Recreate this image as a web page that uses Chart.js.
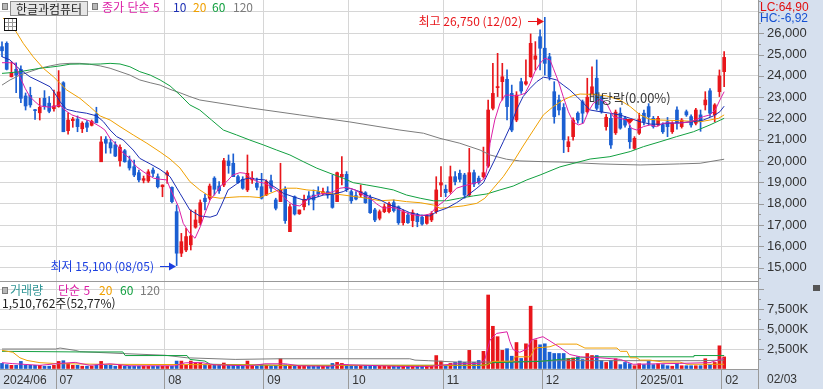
<!DOCTYPE html>
<html lang="ko"><head><meta charset="utf-8">
<title>한글과컴퓨터</title>
<script src="https://cdn.jsdelivr.net/npm/chart.js@4.4.1/dist/chart.umd.min.js"></script>
<style>
html,body{margin:0;padding:0;background:#fff}
body{width:823px;height:389px;position:relative;overflow:hidden;font-family:"Noto Sans CJK KR","Liberation Sans",sans-serif}
canvas{position:absolute;left:0}
#pc{top:0}#vc{top:281px}
.t{position:absolute;white-space:nowrap;font-size:12px;line-height:14px}
.n{font-family:"Liberation Sans",Arial,sans-serif}
.sq{position:absolute;width:4px;height:5px;background:#b8b8b8;border:1px solid #7a7a7a}
</style></head><body>
<canvas id="pc" width="823" height="281"></canvas>
<canvas id="vc" width="823" height="108"></canvas>
<div class="sq" style="left:2px;top:3px"></div>
<div class="t" style="left:10px;top:1px;width:76px;height:13px;line-height:13px;border:1px solid #8e8e8e;background:#e6e6e6;color:#1e1e1e;text-align:center">한글과컴퓨터</div>
<div class="sq" style="left:92px;top:3px"></div>
<div class="t" style="left:102px;top:0px;color:#dc1fa6">종가 단순 5</div>
<div class="t" style="left:173px;top:0px;color:#1c2fb4">10</div>
<div class="t" style="left:193px;top:0px;color:#f0a000">20</div>
<div class="t" style="left:212px;top:0px;color:#12a040">60</div>
<div class="t" style="left:233px;top:0px;color:#7c7c7c">120</div>
<div style="position:absolute;left:4px;top:18px;width:11px;height:11px;border:1px solid #111;background-color:#fff;background-image:linear-gradient(#999 1px,transparent 1px),linear-gradient(90deg,#999 1px,transparent 1px);background-size:4px 4px;background-position:-1px -1px"></div>
<div class="t n" style="left:760px;top:0px;color:#e01010">LC:64,90</div>
<div class="t n" style="left:760px;top:11px;color:#1450d2">HC:-6,92</div>
<div class="sq" style="left:2px;top:287px"></div>
<div class="t" style="left:10px;top:283px;color:#2f9595">거래량</div>
<div class="t" style="left:58px;top:283px;color:#dc1fa6">단순 5</div>
<div class="t" style="left:99px;top:283px;color:#f0a000">20</div>
<div class="t" style="left:120px;top:283px;color:#12a040">60</div>
<div class="t" style="left:140px;top:283px;color:#7c7c7c">120</div>
<div class="t" style="left:2px;top:296px;color:#222">1,510,762주(52,77%)</div>
<div class="t n" style="left:767px;top:372px;color:#333">02/03</div>
<div style="position:absolute;left:813px;top:285px;width:7px;height:6px;background:#555"></div>
<script>
// ---------- data ----------
const monthStartIdx = [0,12,35,56,74,94,115,135,153];
const monthLabels = ['2024/06','07','08','09','10','11','12','2025/01','02'];
const extremeDates = ['12/02','08/05'];
const exDivIdx = 133;
const exDivText = '배당락(0.00%)';
const priceLabels = [15000,16000,17000,18000,19000,20000,21000,22000,23000,24000,25000,26000];
const volLabels = [2500,5000,7500];

const opens = [
25370,25530,23960,24310,24310,23060,23090,22400,22270,22950,
22720,22460,22560,23680,21430,21900,21960,21520,21800,21680,
22210,19970,21030,20870,20760,20020,20490,20020,19740,19460,
19100,19070,19580,19270,18800,19350,18770,17630,15680,15830,
16070,16900,17110,18260,18260,19200,18830,18880,20010,19900,
19270,19150,18650,19120,18960,18800,18410,19080,18180,18100,
18680,16690,18330,17530,17860,18370,18410,18570,18490,18570,
18410,18100,19270,19380,18570,18380,18410,18520,18290,17710,
17320,17630,17630,18050,17860,17110,17470,17210,17470,17370,
17080,17240,17630,18880,18680,18570,19270,19430,19350,18410,
19460,19200,19270,19770,22480,23450,23730,23840,23180,21930,
23730,23620,23960,24780,25840,25300,24900,23260,22870,22520,
20680,21150,22250,22790,22320,23180,23890,23030,21620,22010,
21330,22250,22020,21540,20600,21310,22250,22560,22010,21700,
21700,21850,21380,22400,21620,22320,22090,21780,22170,22640,
23300,22170,23260,24200];
const highs = [
25600,25600,24670,24610,24470,23200,23470,22430,22950,23310,
23030,23340,24250,23730,22270,22060,22120,21850,21900,21930,
22530,21150,21150,21030,20910,20760,20550,20240,20050,19580,
19300,19600,19690,19400,18890,19550,18800,17940,16610,16850,
17710,17710,18180,18460,18930,19270,19040,20130,20290,20340,
19350,19270,20290,19510,19200,19430,19120,19350,18260,19900,
18800,17990,18370,17710,18410,18570,18650,18800,18740,18800,
19350,19490,20210,19510,18650,18570,18880,18570,18410,17790,
17710,17990,18080,18180,17900,17710,17580,17710,17550,17470,
17470,17630,19270,19740,18880,19770,19510,19580,19430,20600,
19580,19300,20660,22870,24590,25060,24590,24280,23570,23260,
23890,24750,25970,25610,26160,26750,25060,23730,23100,22700,
21150,22030,22320,22870,23890,24430,24750,23060,22200,22200,
22400,22500,22100,21700,21150,22250,22400,22700,22100,22100,
21800,22050,21850,22550,22000,22400,22170,22480,22400,23260,
23400,22700,24280,25140];
const lows = [
24900,24280,23950,23210,22740,22400,22530,21960,21930,22430,
22270,22340,22530,21380,21270,21590,21380,21340,21380,21650,
21800,19970,20370,20370,20210,19770,19950,19580,19270,19020,
18980,19000,19270,18740,18330,18960,18040,15100,15520,15750,
15830,16850,17000,17710,18180,18410,18490,18800,19430,19270,
18960,18680,18570,18960,18650,18220,18380,18570,17710,18100,
17080,16690,17470,17500,17710,17940,17710,18330,18410,18260,
17790,18100,18880,18570,18020,18180,18330,18020,17550,17160,
17240,17580,17570,17610,17030,17000,17080,16920,16920,17000,
17040,17160,17550,18330,18330,18490,18880,19020,18260,18330,
18800,18920,19200,19700,22400,23030,22870,21930,21380,21850,
23180,23570,23940,24280,24280,24040,23810,21780,22170,20400,
20440,20990,21780,21780,22250,23100,22400,22250,21450,20600,
21250,21500,21600,20600,20550,21250,21700,21700,21550,21650,
21300,21150,21300,21500,21550,22100,21600,21700,21400,22400,
22100,21850,23030,23490];
const closes = [
25180,24310,24150,24040,22950,22590,22640,22370,22530,22560,
22340,22590,23250,21380,21930,21970,21620,21780,21590,21870,
21800,20900,20840,20620,20240,20650,19970,19680,19350,19120,
19180,19500,19430,18800,18880,19460,18100,15680,16220,16460,
16490,17240,18050,18100,18830,18680,18610,20020,19790,19270,
18990,18730,19430,19200,18770,18260,19040,18730,17790,18650,
17210,17860,17520,17710,18210,18210,18180,18460,18570,18410,
17830,19460,19380,18680,18140,18220,18570,18050,17580,17240,
17630,17860,17990,17680,17110,17630,17110,17580,17160,17050,
17430,17550,18650,18990,18520,19270,19040,19150,18410,19460,
18930,18990,19460,22400,23180,23500,23960,22560,21460,23100,
23290,23730,25530,24940,25300,24590,23960,22090,22400,21000,
20910,21930,21930,22250,23000,23490,22480,22320,22060,20760,
22300,21550,21690,20910,21070,21960,21850,22090,21620,22010,
21380,21620,21780,21780,21930,22170,21700,22400,21850,22870,
22250,22640,24000,24870];
// volume, thousand shares
const volumes = [
700,550,460,460,950,460,460,460,460,350,
350,460,950,1040,700,460,460,350,350,350,
460,950,460,460,350,460,350,350,350,350,
350,350,350,350,350,350,350,990,990,460,
990,750,750,550,460,550,460,750,460,460,
460,350,990,350,350,550,460,350,460,1280,
520,460,460,350,460,350,350,460,350,350,
700,830,700,520,350,350,460,350,350,350,
350,350,350,350,350,350,350,350,350,350,
350,350,1680,990,350,700,830,990,830,2330,
830,1070,2210,9250,5340,4040,2330,2540,1600,3310,
1320,3150,7850,3640,3030,3150,2100,1940,1940,1940,
1280,1390,1520,1190,1940,1690,1690,1060,820,1060,
1280,550,820,660,410,660,550,950,550,660,
550,410,350,660,410,410,410,410,410,1280,
550,820,2900,1511];

// moving averages: [candle position, value]
const ma5 = [[0,24620],[1.7,24620],[2.75,24590],[3.8,23960],[4.9,23420],[5.9,23030],[7,22790],[8.05,22590],[10.2,22530],[12.3,22640],[13.3,22400],[14.8,22170],[16.9,22010],[19,21850],[20.8,21620],[21.8,21460],[22.9,21070],[24.3,20760],[25.7,20370],[27.1,20130],[28.5,19740],[29.9,19510],[32.1,19200],[33.5,19150],[34.9,19120],[35.6,18730],[37.4,17860],[38.4,17080],[39.8,16610],[40.9,16380],[42,16920],[43,17550],[44.1,18180],[45.5,18570],[46.5,18880],[47.6,19040],[48.9,19350],[50.4,19460],[51.5,19430],[52.5,19240],[54,19040],[55.7,18960],[57.1,18800],[58.5,18570],[59.6,18330],[60.7,18100],[61.7,17940],[63.1,17900],[64.2,18100],[65.6,18330],[67.4,18460],[68.8,18490],[70.2,18570],[71.6,18730],[73,18770],[74.8,18650],[76.6,18410],[78,18260],[79.4,17990],[80.8,17790],[82.2,17830],[83.6,17790],[85,17630],[86.4,17520],[88.6,17430],[90.7,17520],[92.1,17860],[93.5,18100],[94.9,18410],[96.3,18730],[97.7,18830],[99.9,18960],[101.3,19040],[102.3,19200],[103,19900],[103.4,20840],[104.4,21930],[105.5,22720],[106.6,23100],[107.6,23100],[108.7,23060],[109.7,23100],[110.8,23180],[111.9,23650],[112.9,24200],[114,24590],[115,24830],[116.1,24750],[116.8,24360],[117.9,23730],[118.9,23030],[120,22320],[121,21850],[122.1,21700],[123.2,21780],[124.2,22320],[125.3,22720],[126.7,22900],[128.1,22720],[129.5,22090],[130.9,22010],[132.3,21930],[133.4,21540],[134.5,21460],[135.9,21620],[137.3,21700],[138.7,21620],[140.1,21780],[141.5,21800],[142.9,21780],[144.3,21800],[145.8,21850],[147.2,21960],[148.6,22090],[150,22170],[151.1,22400],[152.1,22870],[153,23260]];
const ma10 = [[0,24900],[1.7,24750],[2.75,24510],[3.8,24310],[5.9,23960],[8.05,23730],[10.2,23490],[11.2,23180],[12.3,22790],[13.7,22430],[15.8,22320],[17.9,22250],[20.1,22120],[21.5,21850],[22.9,21460],[24.3,21150],[25.7,20990],[27.8,20520],[29.2,20130],[31.4,19870],[33.5,19610],[35.6,19270],[37.7,18490],[39.8,17710],[41.9,17430],[44.1,17370],[45.5,17470],[46.5,17940],[47.9,18650],[49.4,18880],[50.8,19120],[52.2,19200],[54,19150],[55.7,19120],[57.1,18880],[58.5,18680],[59.6,18490],[61.7,18330],[63.8,18180],[66,18260],[68.1,18410],[70.2,18450],[72.3,18570],[73.7,18730],[75.8,18570],[78,18330],[80.1,18180],[82.2,17940],[84.3,17790],[86.4,17580],[88.6,17470],[90.7,17430],[92.1,17630],[94.2,17790],[96.3,18050],[98.5,18370],[100.6,18730],[102,18990],[104.2,19980],[106.2,20910],[107.6,21580],[109,22400],[110.4,23030],[111.9,23420],[113.3,23730],[114.7,23940],[116.1,23890],[117.5,23810],[118.9,23570],[120.3,23340],[121.8,23030],[123.2,22720],[124.6,22400],[126.7,22320],[128.8,22250],[130.9,22170],[133.1,22010],[135.2,21850],[137.3,21740],[139.4,21730],[141.5,21780],[143.6,21800],[146.5,21850],[148.6,21930],[150.7,22120],[152.1,22320],[153,22580]];
const ma20 = [[0.2,26720],[2.75,26160],[4.5,25530],[6.6,24900],[8.75,24360],[10.9,23960],[13.7,23340],[16.5,22950],[18.6,22560],[20.8,22120],[22.9,21930],[25,21620],[27.8,21230],[30.7,20840],[33.5,20430],[35.6,20100],[37.7,19680],[39.8,19040],[41.9,18650],[44.1,18330],[46.2,18260],[48.3,18300],[50.4,18330],[52.5,18330],[54.7,18290],[56.8,18490],[58.2,18610],[60.3,18730],[62.4,18730],[64.6,18650],[66.7,18610],[68.8,18490],[70.9,18450],[73.7,18370],[77.3,18260],[80.1,18140],[82.9,18180],[85.7,18100],[88.6,18050],[91.4,17940],[92.8,17790],[94.9,17830],[97.7,17900],[100.6,18020],[102.3,18260],[104.1,18730],[106.2,19270],[108.3,19960],[110.4,20710],[112.6,21460],[114.7,22170],[116.8,22560],[118.9,22870],[121,23080],[122.5,23150],[125.3,23130],[128.1,23060],[130.9,22870],[133.1,22560],[135.2,22170],[137.3,21960],[139.4,21930],[143.6,21900],[147.9,21850],[150,21930],[151.8,22010],[153,22170]];
const ma60 = [[0,24120],[1.7,24150],[3.8,24200],[5.9,24280],[8.05,24360],[10.2,24410],[12.3,24470],[14.4,24550],[16.5,24560],[18.6,24550],[20.8,24560],[22.9,24590],[25,24560],[27.1,24430],[29.2,24200],[31.4,24040],[33.5,23810],[35.6,23530],[37.7,23110],[39.8,22640],[41.9,22400],[44.4,21930],[46.9,21460],[49.7,21230],[52.5,20990],[55.4,20760],[58.2,20520],[61,20290],[63.8,19980],[66.7,19670],[69.5,19430],[72.3,19200],[74.4,18990],[77.3,18880],[80.1,18770],[82.9,18650],[85.7,18410],[88.6,18260],[91.4,18140],[94.2,18140],[97,18260],[99.9,18370],[102.7,18460],[105.5,18650],[108.3,18830],[111.2,19120],[114,19350],[118.2,19730],[124.6,20100],[128.8,20210],[133.1,20450],[135.9,20680],[139.4,20910],[142.9,21150],[146.5,21380],[150,21700],[153,22010]];
const ma120 = [[0,23570],[1.7,23810],[3.8,24040],[5.9,24200],[8.05,24360],[10.2,24470],[12.3,24560],[14.4,24590],[16.5,24590],[18.6,24550],[20.8,24470],[22.9,24360],[25,24200],[27.1,24040],[29.2,23810],[31.4,23680],[33.5,23570],[35.6,23370],[37.7,23210],[39.8,23030],[41.9,22870],[52.5,22500],[63.1,22170],[73.7,21840],[84.3,21460],[89.3,21310],[92.8,21070],[97,20840],[101.3,20520],[103.4,20290],[106.9,20090],[109.7,20010],[114,19980],[118.2,19960],[126.7,19870],[135.2,19820],[143.6,19870],[147.9,19900],[153,20090]];
const vma5 = [[0,790],[2.3,670],[8,460],[12.3,700],[15.5,830],[18.6,460],[22.9,650],[27.1,400],[36.6,400],[38.8,770],[42,830],[45.1,520],[52.5,400],[55.7,650],[60,650],[63.1,400],[69.5,340],[71.6,590],[73.7,520],[84.3,330],[90.7,330],[92.8,460],[96,650],[101.3,700],[102.3,1200],[103.4,3640],[104.8,4450],[107,4650],[107.6,3430],[108.3,2420],[109.7,2090],[111.2,2500],[112.2,3640],[114.6,4040],[116.1,3500],[118.2,2700],[120.3,1810],[122.5,1525],[126.7,1400],[131,1200],[133.7,590],[143.6,700],[150,800],[152.1,1200],[153,1320]];
const vma20 = [[0,2330],[2.3,2090],[3.8,1400],[5.3,1070],[8.05,790],[11.7,670],[20.8,590],[52.5,520],[58.9,460],[101.3,460],[102.8,520],[104,950],[108.3,990],[108.7,1525],[111.9,1525],[112.9,2620],[116.1,2780],[117.6,3110],[121.8,3110],[123.5,2620],[130.3,2620],[131,2210],[132.4,2210],[133.1,1400],[134.5,1400],[135.2,1110],[137.3,1110],[140,870],[143.6,870],[145.1,590],[153,590]];
const vma60 = [[0,2210],[16.5,2130],[25.6,2130],[26.1,1680],[39.2,1680],[39.8,1200],[43,990],[44.1,590],[58.9,460],[101.9,460],[104,790],[114,950],[118.2,1200],[126,1525],[146.4,1525],[146.6,1680],[153,1680]];
const vma120 = [[0,2500],[11.4,2500],[12.3,2620],[15.5,2330],[16.5,2170],[25.6,1930],[34.5,1720],[39.2,1400],[49.4,1200],[58.9,1280],[86.4,1280],[87.5,1110],[90.3,1040],[96.4,870],[104.4,870],[118.2,1040],[147.9,1040],[153,1110]];

// ---------- styling ----------
const XMIN = -0.424, XMAX = 160.17;
const UP = '#e8161b', DOWN = '#1b5fd2';
const C5 = '#dc1fa6', C10 = '#1c2fb4', C20 = '#f0a000', C60 = '#12a040', C120 = '#7c7c7c';
const GRID = '#d6d6d6', AX = '#9a9a9a', BG = '#d6e0ee';
const fmt = v => v.toLocaleString('en-US');
const isUp = i => closes[i] >= opens[i];
const idx = opens.map((_, i) => i);
const candleColor = c => isUp(c.dataIndex) ? UP : DOWN;
const monthTicks = s => { s.ticks = monthStartIdx.map(m => ({value: Math.max(XMIN, m - 0.5)})); };
const noPad = s => { s.paddingTop = 0; s.paddingBottom = 0; s.paddingLeft = 0; s.paddingRight = 0; };
const pts = arr => arr.map(([x, y]) => ({x, y}));
const lineDs = (arr, color, order) => ({type: 'line', data: pts(arr), borderColor: color, borderWidth: 1, pointRadius: 0, tension: 0, order});

Chart.defaults.font.family = '"Liberation Sans", Arial, sans-serif';

const panelPlugin = {
  id: 'panel',
  beforeDraw(chart, args, opts) {
    const {ctx, chartArea: a, width, height} = chart;
    ctx.save();
    ctx.fillStyle = BG;
    ctx.fillRect(a.right, 0, width - a.right, height);
    if (opts.band) ctx.fillRect(0, a.bottom, width, height - a.bottom);
    ctx.restore();
  },
  afterDraw(chart, args, opts) {
    const {ctx, chartArea: a, height} = chart;
    const y = chart.scales.y;
    ctx.save();
    ctx.strokeStyle = AX; ctx.lineWidth = 1;
    ctx.beginPath();
    y.ticks.forEach(t => {
      const py = Math.round(y.getPixelForValue(t.value)) + 0.5;
      if (py < 1 || py > a.bottom - 1) return;
      const len = (t.value % opts.major === 0) ? 6 : 3;
      ctx.moveTo(a.right, py); ctx.lineTo(a.right + len, py);
    });
    ctx.moveTo(a.right + 0.5, 0); ctx.lineTo(a.right + 0.5, height);
    if (opts.band) { ctx.moveTo(0, 0.5); ctx.lineTo(a.right, 0.5); }
    ctx.stroke();
    ctx.restore();
  }
};

const notePlugin = {
  id: 'notes',
  afterDatasetsDraw(chart) {
    const {ctx} = chart;
    const xs = chart.scales.x, ys = chart.scales.y;
    const hi = Math.max(...highs), lo = Math.min(...lows);
    const hiI = highs.indexOf(hi), loI = lows.indexOf(lo);
    ctx.save();
    ctx.font = '12px "Noto Sans CJK KR", sans-serif';
    ctx.textBaseline = 'middle';
    const arrow = (tipX, ay, color, text) => {
      ctx.strokeStyle = color; ctx.fillStyle = color; ctx.lineWidth = 1;
      ctx.beginPath(); ctx.moveTo(tipX - 16, ay + 0.5); ctx.lineTo(tipX - 6, ay + 0.5); ctx.stroke();
      ctx.beginPath(); ctx.moveTo(tipX, ay + 0.5); ctx.lineTo(tipX - 7, ay - 3.5); ctx.lineTo(tipX - 7, ay + 4.5); ctx.closePath(); ctx.fill();
      ctx.textAlign = 'right';
      ctx.fillText(text, tipX - 22, ay + 0.5);
    };
    arrow(Math.round(xs.getPixelForValue(hiI)) - 1, Math.round(ys.getPixelForValue(hi)) + 4, '#e8161b', '최고 ' + fmt(hi) + ' (' + extremeDates[0] + ')');
    arrow(Math.round(xs.getPixelForValue(loI)) - 1, Math.round(ys.getPixelForValue(lo)), '#1b3fe0', '최저 ' + fmt(lo) + ' (' + extremeDates[1] + ')');
    // ex-dividend marker
    const cx = xs.getPixelForValue(exDivIdx), ty = ys.getPixelForValue(highs[exDivIdx]);
    ctx.fillStyle = '#e8161b';
    ctx.beginPath(); ctx.moveTo(cx - 4.5, ty - 6); ctx.lineTo(cx + 4.5, ty - 6); ctx.lineTo(cx, ty - 1); ctx.closePath(); ctx.fill();
    ctx.font = '13px "Noto Sans CJK KR", sans-serif';
    ctx.fillStyle = '#3a3a3a'; ctx.textAlign = 'center';
    ctx.fillText(exDivText, cx, ty - 27);
    ctx.restore();
  }
};

const base = {
  responsive: false, animation: false, events: [],
  layout: {padding: 0, autoPadding: false},
  plugins: {legend: {display: false}, tooltip: {enabled: false}}
};

new Chart(document.getElementById('pc'), {
  type: 'bar',
  data: {datasets: [
    lineDs(ma5, C5, 1), lineDs(ma10, C10, 2), lineDs(ma20, C20, 3), lineDs(ma60, C60, 4), lineDs(ma120, C120, 5),
    {type: 'bar', data: idx.map(i => ({x: i, y: [opens[i], closes[i]]})), backgroundColor: candleColor, barThickness: 3, minBarLength: 1, grouped: false, borderWidth: 0, order: 6},
    {type: 'bar', data: idx.map(i => ({x: i, y: [lows[i], highs[i]]})), backgroundColor: candleColor, barThickness: 1, grouped: false, borderWidth: 0, order: 7}
  ]},
  options: Object.assign({}, base, {
    plugins: Object.assign({}, base.plugins, {panel: {major: 1000, band: false}}),
    scales: {
      x: {type: 'linear', min: XMIN, max: XMAX, offset: false, position: 'bottom',
          afterBuildTicks: monthTicks, afterFit: s => { s.height = 0; noPad(s); },
          ticks: {display: false},
          grid: {offset: false, drawTicks: false, color: c => c.index === 0 ? 'transparent' : GRID},
          border: {display: false}},
      y: {position: 'right', min: 14375, max: 27563,
          afterBuildTicks: s => { const t = []; for (let v = 14500; v <= 27500; v += 500) t.push({value: v}); s.ticks = t; },
          afterFit: s => { s.width = 65; noPad(s); },
          ticks: {autoSkip: false, padding: 9, color: '#333', font: {size: 13}, callback: v => priceLabels.includes(v) ? fmt(v) : ''},
          grid: {drawTicks: false, color: c => (c.tick && c.tick.value % 1000 === 0) ? GRID : 'transparent'},
          border: {color: AX}}
    }
  }),
  plugins: [panelPlugin, notePlugin]
});

new Chart(document.getElementById('vc'), {
  type: 'bar',
  data: {datasets: [
    lineDs(vma5, C5, 1), lineDs(vma20, C20, 2), lineDs(vma60, C60, 3), lineDs(vma120, C120, 4),
    {type: 'bar', data: idx.map(i => ({x: i, y: volumes[i]})), backgroundColor: candleColor, barThickness: 3, grouped: false, borderWidth: 0, order: 5}
  ]},
  options: Object.assign({}, base, {
    plugins: Object.assign({}, base.plugins, {panel: {major: 2500, band: true}}),
    scales: {
      x: {type: 'linear', min: XMIN, max: XMAX, offset: false, position: 'bottom',
          afterBuildTicks: monthTicks, afterFit: s => { s.height = 20; noPad(s); },
          ticks: {autoSkip: false, maxRotation: 0, minRotation: 0, align: 'start', padding: -16, color: '#333', font: {size: 12},
                  callback: (v, i) => ' ' + monthLabels[i]},
          grid: {offset: false, drawTicks: true, tickLength: 20,
                 color: c => c.index === 0 ? 'transparent' : GRID,
                 tickColor: c => c.index === 0 ? 'transparent' : AX},
          border: {color: AX}},
      y: {position: 'right', min: 0, max: 11000,
          afterBuildTicks: s => { const t = []; for (let v = 0; v <= 11000; v += 1250) t.push({value: v}); s.ticks = t; },
          afterFit: s => { s.width = 65; noPad(s); },
          ticks: {autoSkip: false, padding: 9, color: '#333', font: {size: 13}, callback: v => volLabels.includes(v) ? fmt(v) + 'K' : ''},
          grid: {drawTicks: false, color: c => (c.tick && c.tick.value > 0 && c.tick.value % 2500 === 0) ? GRID : 'transparent'},
          border: {color: AX}}
    }
  }),
  plugins: [panelPlugin]
});
</script>
</body></html>
